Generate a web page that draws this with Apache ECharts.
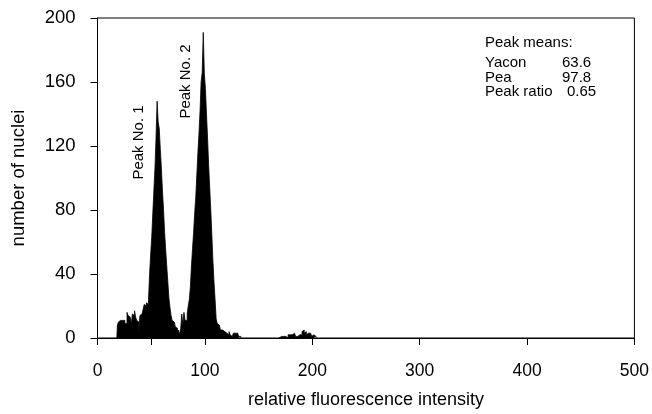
<!DOCTYPE html>
<html>
<head>
<meta charset="utf-8">
<script src="https://cdn.jsdelivr.net/npm/echarts@6/dist/echarts.min.js"></script>
<style>
html,body{margin:0;padding:0;background:#fff;}
#chart{width:652px;height:414px;}
</style>
</head>
<body>
<div id="chart"></div>
<script>
// Histogram channels (relative fluorescence intensity) and counts (number of nuclei)
var mainChannels = [18,19,20,21,22,23,24,25,26,27,28,29,30,31,32,33,34,35,36,37,38,39,40,41,42,43,44,45,46,47,48,49,50,51,52,53,54,55,56,57,58,59,60,61,62,63,64,65,66,67,68,69,70,71,72,73,74,75,76,77,78,79,80,81,82,83,84,85,86,87,88,89,90,91,92,93,94,95,96,97,98,99,100,101,102,103,104,105,106,107,108,109,110,111,112,113,114,115,116,117,118,119,120,121,122,123,124,125,126,127,128,129,130,131,132,133,134];
var mainCounts = [0,8,10,11,12,11,12,11,9,9,16,14,13,12,9,15,14,17,13,11,10,4,14,15,14,18,21,20,22,21,24,40,52,63,78,92,106,125,148,135,131,118,106,92,80,66,55,45,35,25,19,14,11,10,9,7,6,3,5,2,6,15,8,16,11,11,15,20,24,32,45,56,66,78,88,102,116,128,142,160,166,191,165,156,140,125,108,94,80,64,48,35,24,12,9,8,7,5,5,4,4,3,3,2,2,4,2,1,2,3,3,2,3,2,1,1,0];
var smallChannels = [169,170,171,172,173,174,175,176,177,178,179,180,181,182,183,184,185,186,187,188,189,190,191,192,193,194,195,196,197,198,199,200,201,202,203,204,205];
var smallCounts = [0,1,1,1,1,0,1,1,0,2,2,1,2,1,3,2,1,1,2,2,3,2,4,5,3,4,2,3,4,3,2,1,2,1,1,1,0];

var xTickValues = [0,50,100,200,300,400,500];
var xLabelValues = [0,100,200,300,400,500];
var yMin = 0, yMax = 200, yStep = 40;

var peakMeanLabels = ['Yacon', 'Pea', 'Peak ratio'];
var peakMeanValues = ['63.6', '97.8', '0.65'];

function pairs(xs, ys){ return xs.map(function(c, i){ return [c, ys[i]]; }); }

var FONT = 'Liberation Sans, Arial, Helvetica, sans-serif';
var chart = echarts.init(document.getElementById('chart'), null, {renderer:'canvas'});

var graphics = [
  {type:'text', x:485, y:43, style:{text:'Peak means:', font:'15px ' + FONT, fill:'#000', textVerticalAlign:'middle'}},
];
var rowY = [63, 77.5, 91.5];
var valX = [562, 562, 567];
peakMeanLabels.forEach(function(l, i){
  graphics.push({type:'text', x:485, y:rowY[i], style:{text:l, font:'15px ' + FONT, fill:'#000', textVerticalAlign:'middle'}});
  graphics.push({type:'text', x:valX[i], y:rowY[i], style:{text:peakMeanValues[i], font:'15px ' + FONT, fill:'#000', textVerticalAlign:'middle'}});
});
graphics.push({type:'text', x:139, y:142.5, rotation:Math.PI/2, style:{text:'Peak No. 1', font:'15px ' + FONT, fill:'#000', textAlign:'center', textVerticalAlign:'middle'}});
graphics.push({type:'text', x:186, y:81.5, rotation:Math.PI/2, style:{text:'Peak No. 2', font:'15px ' + FONT, fill:'#000', textAlign:'center', textVerticalAlign:'middle'}});

function histSeries(data){
  return {
    type:'line', data:data, step:'middle', symbol:'none', silent:true,
    lineStyle:{color:'#000', width:0.8},
    areaStyle:{color:'#000', opacity:1, origin:'start'}
  };
}

chart.setOption({
  animation:false,
  backgroundColor:'#fff',
  grid:{left:97.5, right:15, top:18, bottom:76, show:true, borderColor:'#000', borderWidth:1},
  xAxis:{
    type:'value', min:0, max:500,
    name:'relative fluorescence intensity', nameLocation:'middle', nameGap:53,
    nameTextStyle:{fontFamily:FONT, fontSize:18, color:'#000'},
    axisLine:{show:true, lineStyle:{color:'#000', width:1}},
    axisTick:{show:true, inside:false, length:7, lineStyle:{color:'#000', width:1}, customValues:xTickValues},
    axisLabel:{fontFamily:FONT, fontSize:17.5, color:'#000', margin:24, customValues:xLabelValues},
    splitLine:{show:false}
  },
  yAxis:{
    type:'value', min:yMin, max:yMax, interval:yStep,
    name:'number of nuclei', nameLocation:'middle', nameGap:69,
    nameTextStyle:{fontFamily:FONT, fontSize:18.5, color:'#000'},
    axisLine:{show:true, lineStyle:{color:'#000', width:1}},
    axisTick:{show:true, inside:false, length:7, lineStyle:{color:'#000', width:1}},
    axisLabel:{fontFamily:FONT, fontSize:18.5, color:'#000', margin:22},
    splitLine:{show:false}
  },
  series:[histSeries(pairs(mainChannels, mainCounts)), histSeries(pairs(smallChannels, smallCounts))],
  graphic:graphics
});
</script>
</body>
</html>
